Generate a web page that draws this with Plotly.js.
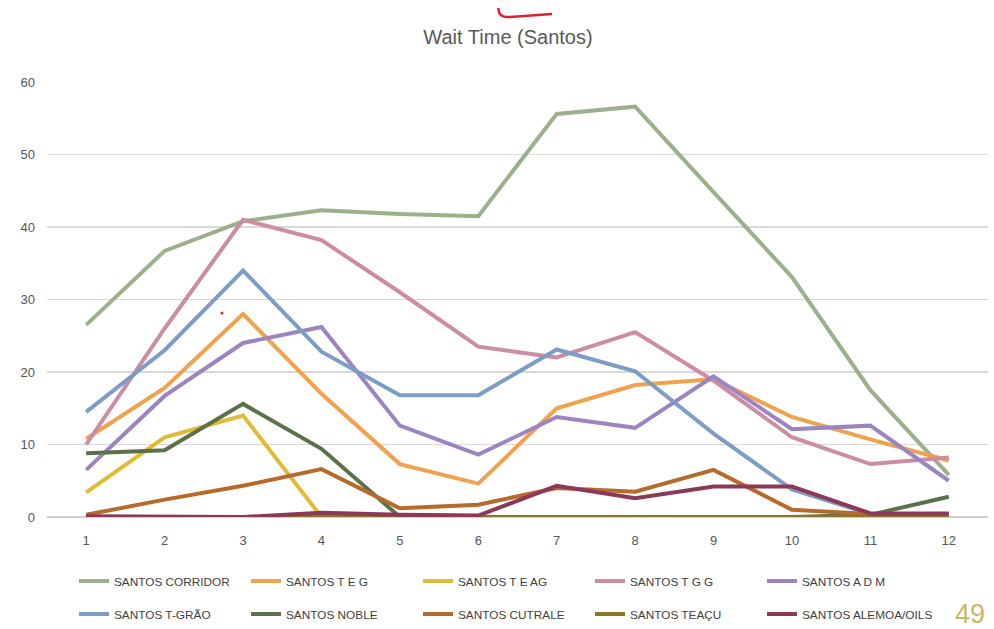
<!DOCTYPE html>
<html>
<head>
<meta charset="utf-8">
<script src="https://cdn.plot.ly/plotly-3.0.1.min.js"></script>
<style>html,body{margin:0;padding:0;background:#fff;}#chart{width:994px;height:629px;}</style>
</head>
<body>
<div id="chart"></div>
<script>
const months = [1,2,3,4,5,6,7,8,9,10,11,12];
const seriesNames = ["SANTOS CORRIDOR","SANTOS T E G","SANTOS T E AG","SANTOS T G G","SANTOS A D M",
  "SANTOS T-GRÃO","SANTOS NOBLE","SANTOS CUTRALE","SANTOS TEAÇU","SANTOS ALEMOA/OILS"];
const corridor = [26.5,36.7,40.8,42.3,41.8,41.5,55.6,56.6,44.8,33.1,17.5,5.8];
const teg      = [10.8,17.8,28.0,17.0,7.3,4.6,15.0,18.2,19.0,13.8,10.7,7.8];
const teag     = [3.4,11.0,14.0,0,0,0,0,0,0,0,0,0];
const tgg      = [10.0,26.0,41.0,38.2,31.0,23.5,22.0,25.5,18.8,11.0,7.3,8.2];
const adm      = [6.5,16.7,24.0,26.2,12.6,8.6,13.8,12.3,19.4,12.1,12.6,5.0];
const tgrao    = [14.5,23.0,34.0,22.8,16.8,16.8,23.1,20.1,11.5,3.8,0.4,0.4];
const noble    = [8.8,9.2,15.6,9.4,0,0,0,0,0,0,0.3,2.8];
const cutrale  = [0.3,2.4,4.3,6.6,1.2,1.7,4.0,3.5,6.5,1.0,0.4,0.3];
const teacu    = [0,0,0,0,0,0,0,0,0,0,0,0];
const alemoa   = [0.1,0,0,0.6,0.3,0.2,4.3,2.6,4.2,4.2,0.5,0.5];
const yTicks = [0,10,20,30,40,50,60];

const values = [corridor,teg,teag,tgg,adm,tgrao,noble,cutrale,teacu,alemoa];
const colors = ["#9db08c","#f0a24c","#e2bb36","#cc8ca3","#9c84c2","#7b9dc6","#5b7248","#b86a2a","#8b7426","#8c3858"];

const font = "Liberation Sans, Arial, sans-serif";

const traces = values.map((v, i) => ({
  type: "scatter", mode: "lines", x: months, y: v, name: seriesNames[i],
  line: {color: colors[i], width: 4},
  legend: i < 5 ? "legend" : "legend2"
}));

const L = 47, R = 988, T = 82, B = 517;
const px = v => (v - L) / (R - L);
const py = v => (B - v) / (B - T);

const legendCommon = {
  orientation: "h", xref: "container", yref: "container", xanchor: "left", yanchor: "middle",
  font: {family: font, size: 11.8, color: "#404040"},
  entrywidth: 127, bgcolor: "rgba(0,0,0,0)", traceorder: "normal"
};

const layout = {
  width: 994, height: 629,
  margin: {l: L, r: 994 - R, t: T, b: 629 - B},
  paper_bgcolor: "#ffffff", plot_bgcolor: "#ffffff",
  showlegend: true,
  title: {text: "Wait Time (Santos)", x: px(508), xref: "paper", xanchor: "center",
          y: 1 - 37/629, yanchor: "middle", yref: "container",
          font: {family: font, size: 20, color: "#595959"}},
  xaxis: {range: [0.5, 12.5], tickvals: months, ticktext: months.map(String),
          showgrid: false, zeroline: false, showline: false, ticks: "", ticklabelstandoff: 14,
          tickfont: {family: font, size: 13, color: "#555555"}, fixedrange: true},
  yaxis: {range: [0, 60], tickvals: yTicks, showgrid: true, gridcolor: "#dcd8d5", gridwidth: 1.5,
          zeroline: true, zerolinecolor: "#d3cfcc", zerolinewidth: 1.5, showline: false, ticks: "",
          ticklabelstandoff: 11,
          tickfont: {family: font, size: 13, color: "#555555"}, fixedrange: true},
  legend: Object.assign({x: 74/994, y: 1 - 581/629}, legendCommon),
  legend2: Object.assign({x: 74/994, y: 1 - 614/629}, legendCommon),
  annotations: [
    {text: "49", xref: "paper", yref: "paper", x: px(970), y: py(614), xanchor: "center", yanchor: "middle",
     showarrow: false, font: {family: font, size: 27, color: "#cbb566"}}
  ],
  shapes: [
    {type: "path", xref: "paper", yref: "paper",
     path: "M " + px(498.5) + " " + py(8) + " Q " + px(498) + " " + py(18) + " " + px(510) + " " + py(17) +
           " L " + px(552) + " " + py(14),
     line: {color: "#e0202a", width: 2.5}},
    {type: "circle", xref: "paper", yref: "paper",
     x0: px(220.5), x1: px(223.5), y0: py(311.5), y1: py(314.5),
     fillcolor: "#ff2020", line: {width: 0}}
  ]
};

Plotly.newPlot("chart", traces, layout, {displayModeBar: false, staticPlot: true});
</script>
</body>
</html>
